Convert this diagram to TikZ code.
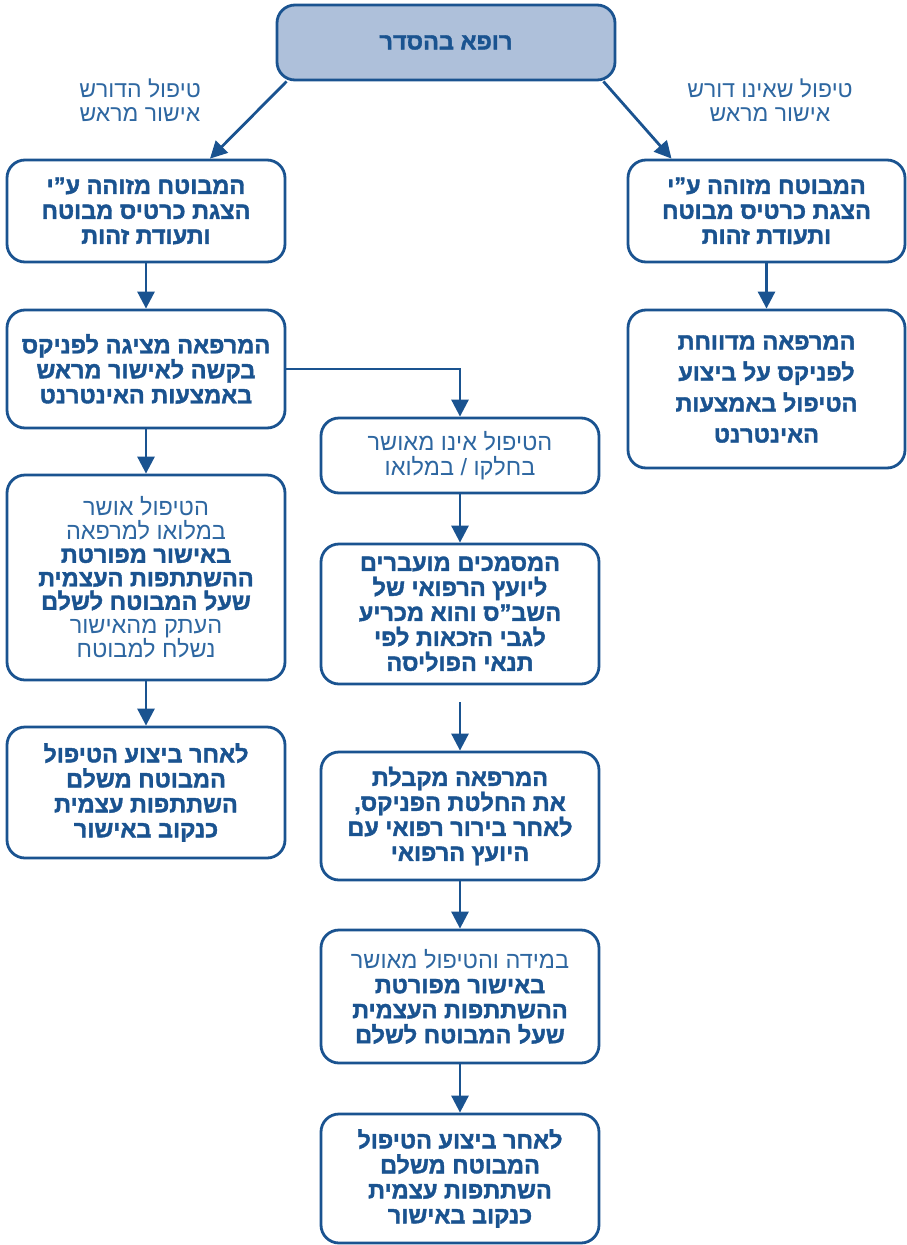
\documentclass[tikz,border=0pt]{standalone}
\usepackage{fontspec}
\usetikzlibrary{arrows.meta,calc}
\TeXXeTstate=1
\newfontfamily\hebfont[Script=Hebrew]{Liberation Sans}
\newfontfamily\hebheavy[Script=Hebrew,FakeBold=1.6]{Liberation Sans Bold}
\newcommand\RL[1]{\beginR #1\endR}
\newcommand\LT[1]{{\hebfont\color{lighttext}\RL{#1}}}
\definecolor{dblue}{HTML}{1A5390}
\definecolor{lighttext}{HTML}{2E67A1}
\definecolor{topfill}{HTML}{AEC0DA}
\tikzset{
  box/.style={draw=dblue, line width=2.8pt, rounded corners=18pt, fill=white,
    text=dblue, align=center, font=\hebheavy\fontsize{23.5}{25}\selectfont,
    inner sep=0pt, minimum width=278pt},
  lbl/.style={text=lighttext, align=center, font=\hebfont\fontsize{23}{24}\selectfont},
  arr/.style={draw=dblue, line width=2.8pt, -{Triangle[length=17pt,width=17pt]}}
}
\begin{document}
\begin{tikzpicture}[x=1pt,y=1pt]
\useasboundingbox (0,0) rectangle (907,-1245);
% top
\node[box, fill=topfill, minimum width=338pt, minimum height=75pt] (top) at (446,-42.5) {\RL{רופא בהסדר}};
\node[lbl] (labL) at (140,-100) {\RL{טיפול הדורש}\\\RL{אישור מראש}};
\node[lbl] (labR) at (770,-100) {\RL{טיפול שאינו דורש}\\\RL{אישור מראש}};
% left column
\node[box, minimum height=102pt] (L1) at (146,-211) {\RL{המבוטח מזוהה ע”י}\\\RL{הצגת כרטיס מבוטח}\\\RL{ותעודת זהות}};
\node[box, minimum height=118pt] (L2) at (146,-369) {\RL{המרפאה מציגה לפניקס}\\\RL{בקשה לאישור מראש}\\\RL{באמצעות האינטרנט}};
\node[box, minimum height=205pt, font=\hebheavy\fontsize{23.5}{23.5}\selectfont] (L3) at (146,-577.5) {\LT{הטיפול אושר}\\\LT{במלואו למרפאה}\\\RL{באישור מפורטת}\\\RL{ההשתתפות העצמית}\\\RL{שעל המבוטח לשלם}\\\LT{העתק מהאישור}\\\LT{נשלח למבוטח}};
\node[box, minimum height=131pt] (L4) at (146,-792.5) {\RL{לאחר ביצוע הטיפול}\\\RL{המבוטח משלם}\\\RL{השתתפות עצמית}\\\RL{כנקוב באישור}};
% middle column
\node[box, minimum height=75pt] (M1) at (460,-455.5) {\LT{הטיפול אינו מאושר}\\\LT{בחלקו / במלואו}};
\node[box, minimum height=140pt] (M2) at (460,-614) {\RL{המסמכים מועברים}\\\RL{ליועץ הרפואי של}\\\RL{השב”ס והוא מכריע}\\\RL{לגבי הזכאות לפי}\\\RL{תנאי הפוליסה}};
\node[box, minimum height=128pt] (M3) at (460,-816) {\RL{המרפאה מקבלת}\\\RL{את החלטת הפניקס,}\\\RL{לאחר בירור רפואי עם}\\\RL{היועץ הרפואי}};
\node[box, minimum height=133pt] (M4) at (460,-996.5) {\LT{במידה והטיפול מאושר}\\\RL{באישור מפורטת}\\\RL{ההשתתפות העצמית}\\\RL{שעל המבוטח לשלם}};
\node[box, minimum height=129pt] (M5) at (460,-1178.5) {\RL{לאחר ביצוע הטיפול}\\\RL{המבוטח משלם}\\\RL{השתתפות עצמית}\\\RL{כנקוב באישור}};
% right column
\node[box, minimum width=277pt, minimum height=102pt] (R1) at (766.5,-211) {\RL{המבוטח מזוהה ע”י}\\\RL{הצגת כרטיס מבוטח}\\\RL{ותעודת זהות}};
\node[box, minimum width=277pt, minimum height=158pt, font=\hebheavy\fontsize{23.5}{31}\selectfont] (R2) at (766.5,-389) {\RL{המרפאה מדווחת}\\\RL{לפניקס על ביצוע}\\\RL{הטיפול באמצעות}\\\RL{האינטרנט}};
% connectors
\coordinate (m23) at (460,-702);
\draw[arr] ($(top.south west)+(11,0)$) -- ($(L1.north)+(64,0)$);
\draw[arr] ($(top.south east)+(-13,0)$) -- ($(R1.north)+(-95,0)$);
\draw[arr] (L1.south) -- (L2.north);
\draw[arr] (L2.south) -- (L3.north);
\draw[arr] (L3.south) -- (L4.north);
\draw[arr] (L2.east) -| (M1.north);
\draw[arr] (M1.south) -- (M2.north);
\draw[arr] (m23) -- (M3.north);
\draw[arr] (M3.south) -- (M4.north);
\draw[arr] (M4.south) -- (M5.north);
\draw[arr] (R1.south) -- (R2.north);
\end{tikzpicture}
\end{document}
